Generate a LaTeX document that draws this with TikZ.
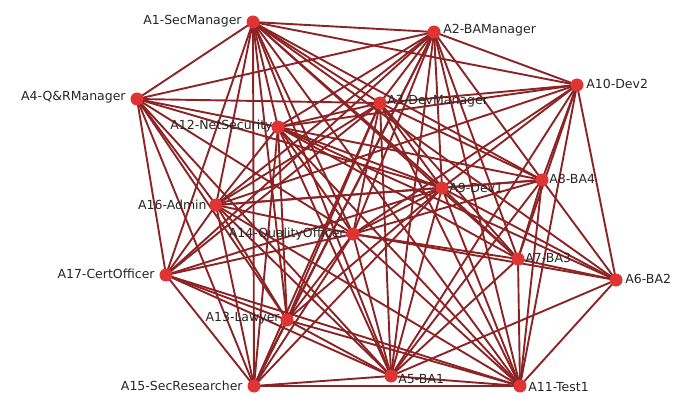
\documentclass[tikz,border=0pt]{standalone}
\usepackage{fontspec}
\setmainfont{DejaVu Sans}
\usetikzlibrary{positioning}
\definecolor{linkred}{RGB}{140,36,38}
\definecolor{dotred}{RGB}{222,52,52}

\begin{document}
\begin{tikzpicture}[
    x=1pt, y=-1pt,
    agent/.style={circle, fill=dotred, draw=none, inner sep=0pt,
      minimum size=12pt},
    link/.style={draw=linkred, line width=1.9pt},
    lbl/.style={font=\fontsize{12.5}{14}\selectfont, inner sep=1pt, text=black!85},
  ]
  \useasboundingbox (0,0) rectangle (675,396);

  %% ---- agent positions (pixel grid) ----
  \node[agent] (A1)  at (253, 22)  {};
  \node[agent] (A2)  at (434, 32)  {};
  \node[agent] (A4)  at (137, 99)  {};
  \node[agent] (A3)  at (380,103)  {};
  \node[agent] (A10) at (577, 85)  {};
  \node[agent] (A12) at (278,127)  {};
  \node[agent] (A9)  at (442,188)  {};
  \node[agent] (A8)  at (542,180)  {};
  \node[agent] (A16) at (216,205)  {};
  \node[agent] (A14) at (353,234)  {};
  \node[agent] (A7)  at (518,259)  {};
  \node[agent] (A6)  at (616,280)  {};
  \node[agent] (A17) at (166,275)  {};
  \node[agent] (A13) at (287,320)  {};
  \node[agent] (A15) at (254,386)  {};
  \node[agent] (A5)  at (391,376)  {};
  \node[agent] (A11) at (520,386)  {};

  %% ---- links ----
  \foreach \a/\b in {A1/A2, A1/A4, A1/A10, A1/A3, A1/A12, A1/A16, A1/A17,
      A1/A14, A1/A9, A1/A8, A1/A7, A1/A6, A1/A13, A1/A15, A1/A5, A1/A11,
      A2/A4, A2/A10, A2/A3, A2/A12, A2/A16, A2/A9, A2/A8, A2/A14, A2/A7,
      A2/A13, A2/A5, A2/A11, A2/A15, A2/A17,
      A4/A3, A4/A12, A4/A16, A4/A17, A4/A14, A4/A9, A4/A13, A4/A15, A4/A5,
      A10/A3, A10/A12, A10/A9, A10/A8, A10/A7, A10/A6, A10/A11, A10/A5,
      A10/A14, A10/A16,
      A3/A12, A3/A16, A3/A14, A3/A9, A3/A8, A3/A7, A3/A13, A3/A15, A3/A5,
      A3/A11, A3/A17,
      A12/A16, A12/A14, A12/A9, A12/A8, A12/A7, A12/A6, A12/A13, A12/A15,
      A12/A5, A12/A11,
      A9/A8, A9/A16, A9/A14, A9/A7, A9/A6, A9/A5, A9/A11, A9/A15, A9/A13,
      A9/A17,
      A8/A6, A8/A7, A8/A11, A8/A5, A8/A14, A8/A16,
      A16/A14, A16/A17, A16/A13, A16/A15, A16/A5, A16/A11,
      A14/A7, A14/A6, A14/A5, A14/A11, A14/A15, A14/A13, A14/A17,
      A7/A6, A7/A11, A7/A5,
      A6/A11, A6/A5,
      A17/A13, A17/A15, A17/A5, A17/A11,
      A13/A15, A13/A5, A13/A11,
      A15/A5, A15/A11, A5/A11}
    \draw[link] (\a.center) -- (\b.center);

  %% ---- redraw agents on top ----
  \foreach \n in {A1,A2,A3,A4,A5,A6,A7,A8,A9,A10,A11,A12,A13,A14,A15,A16,A17}
    \fill[dotred] (\n) circle (6.5pt);

  %% ---- labels ----
  \node[lbl, anchor=east] (L1)  at ([xshift=-4pt,yshift=1pt]A1.west)  {A1-SecManager};
  \node[lbl, anchor=west] (L2)  at ([xshift=2pt,yshift=2pt]A2.east)   {A2-BAManager};
  \node[lbl, anchor=east] (L4)  at ([xshift=-4pt,yshift=2pt]A4.west)  {A4-Q\&RManager};
  \node[lbl, anchor=west] (L3)  at ([xshift=0pt,yshift=2pt]A3.east)   {A3-DevManager};
  \node[lbl, anchor=west] (L10) at ([xshift=2pt,yshift=1pt]A10.east)  {A10-Dev2};
  \node[lbl, anchor=east] (L12) at ([xshift=2pt,yshift=1pt]A12.west)  {A12-NetSecurity};
  \node[lbl, anchor=west] (L9)  at ([xshift=0pt,yshift=0pt]A9.east)   {A9-Dev1};
  \node[lbl, anchor=west] (L8)  at ([xshift=0pt,yshift=1pt]A8.east)   {A8-BA4};
  \node[lbl, anchor=east] (L16) at ([xshift=-2pt,yshift=0pt]A16.west) {A16-Admin};
  \node[lbl, anchor=east] (L14) at ([xshift=-1pt,yshift=0pt]A14.west) {A14-QualityOfficer};
  \node[lbl, anchor=west] (L7)  at ([xshift=0pt,yshift=1pt]A7.east)   {A7-BA3};
  \node[lbl, anchor=west] (L6)  at ([xshift=2pt,yshift=1pt]A6.east)   {A6-BA2};
  \node[lbl, anchor=east] (L17) at ([xshift=-4pt,yshift=1pt]A17.west) {A17-CertOfficer};
  \node[lbl, anchor=east] (L13) at ([xshift=0pt,yshift=2pt]A13.west)  {A13-Lawyer};
  \node[lbl, anchor=east] (L15) at ([xshift=-4pt,yshift=0pt]A15.west) {A15-SecResearcher};
  \node[lbl, anchor=west] (L5)  at ([xshift=0pt,yshift=-3pt]A5.east)  {A5-BA1};
  \node[lbl, anchor=west] (L11) at ([xshift=1pt,yshift=-1pt]A11.east) {A11-Test1};
\end{tikzpicture}
\end{document}
